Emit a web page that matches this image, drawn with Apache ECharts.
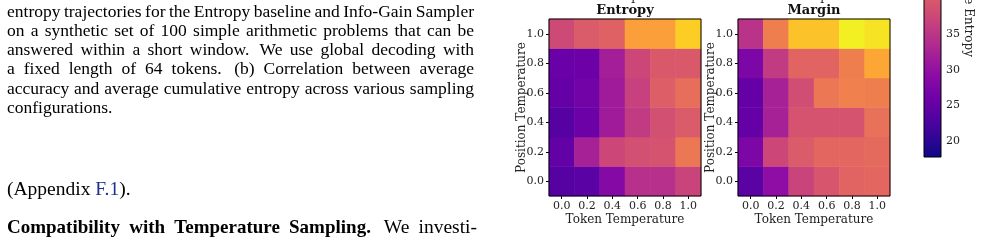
<!DOCTYPE html>
<html>
<head>
<meta charset="utf-8">
<script src="https://cdn.jsdelivr.net/npm/echarts@6/dist/echarts.min.js"></script>
<style>
  html, body { margin: 0; padding: 0; background: #fff; }
  #main { width: 981px; height: 245px; }
</style>
</head>
<body>
<div id="main"></div>
<script>
// axis categories
const tokenTemps = ["0.0", "0.2", "0.4", "0.6", "0.8", "1.0"];
const positionTemps = ["0.0", "0.2", "0.4", "0.6", "0.8", "1.0"];

// average cumulative entropy, rows = position temperature 0.0 -> 1.0, cols = token temperature
const entropyGrid = [
  [23.7, 24.1, 28.4, 34.3, 34.3, 37.0],
  [24.9, 32.3, 37.4, 38.6, 39.0, 43.7],
  [23.7, 26.0, 31.5, 35.8, 38.6, 40.1],
  [25.2, 26.4, 31.5, 36.6, 40.5, 42.5],
  [25.6, 26.0, 31.9, 37.4, 39.8, 39.8],
  [37.8, 40.1, 40.9, 48.4, 48.4, 53.1]
];
const marginGrid = [
  [24.1, 29.6, 37.0, 39.4, 41.3, 41.7],
  [27.6, 37.4, 40.1, 41.7, 41.7, 42.1],
  [25.2, 32.3, 39.0, 39.0, 39.0, 42.9],
  [25.2, 32.3, 38.2, 43.7, 44.8, 44.5],
  [27.6, 35.8, 41.3, 41.3, 44.5, 49.2],
  [34.7, 44.5, 51.9, 51.9, 56.2, 55.0]
];

// colour scale
const colorMin = 17.8;
const colorMax = 57.0;
const colorbarTicks = [20, 25, 30, 35];
const plasma = ["#0d0887", "#41049d", "#6a00a8", "#8f0da4", "#b12a90", "#cc4778",
                "#e16462", "#f2844b", "#fca636", "#fcce25", "#f0f921"];

// paper text around the figure
const captionLines = [
  "entropy trajectories for the Entropy baseline and Info-Gain Sampler",
  "on a synthetic set of 100 simple arithmetic problems that can be",
  "answered within a short window. We use global decoding with",
  "a fixed length of 64 tokens. (b) Correlation between average",
  "accuracy and average cumulative entropy across various sampling",
  "configurations."
];

const serif = "DejaVu Serif";
const captionFont = "17.5px 'Liberation Serif'";
const bodyFont = "19.5px 'Liberation Serif'";
const bodyBold = "bold 19px 'Liberation Serif'";

function toCells(grid) {
  const out = [];
  grid.forEach(function (row, y) {
    row.forEach(function (v, x) { out.push([x, y, v]); });
  });
  return out;
}

// word-by-word layout so the paper text is justified like the original
const measureCtx = document.createElement("canvas").getContext("2d");
function textW(s, font) { measureCtx.font = font; return measureCtx.measureText(s).width; }

function layoutLine(tokens, y, x0, x1, justify) {
  const widths = tokens.map(function (tk) { return textW(tk.t, tk.font); });
  const total = widths.reduce(function (a, b) { return a + b; }, 0);
  // sentence ends get a bit more room, like TeX
  const weights = tokens.map(function (tk, i) {
    if (i === 0 || tk.nb) return 0;
    return /[.]$/.test(tokens[i - 1].t) ? 1.4 : 1;
  });
  const wsum = weights.reduce(function (a, b) { return a + b; }, 0);
  const unit = justify && wsum ? (x1 - x0 - total) / wsum : textW(" ", tokens[0].font);
  let x = x0;
  const out = [];
  tokens.forEach(function (tk, i) {
    x += weights[i] * unit;
    out.push({
      type: "text", x: x, y: y,
      style: { text: tk.t, font: tk.font, fill: tk.color || "#000", textVerticalAlign: "middle" }
    });
    x += widths[i];
  });
  return out;
}

function plainTokens(line, font) {
  return line.split(" ").map(function (w) { return { t: w, font: font }; });
}

const graphics = [];
captionLines.forEach(function (line, i) {
  graphics.push.apply(graphics, layoutLine(plainTokens(line, captionFont), 12 + i * 19.3, 7, 474, i < captionLines.length - 1));
});
graphics.push.apply(graphics, layoutLine([
  { t: "(Appendix", font: bodyFont },
  { t: "F.1", font: bodyFont, color: "#1f2f8f" },
  { t: ").", font: bodyFont, nb: true }
], 190, 7, 474, false));
graphics.push.apply(graphics, layoutLine(
  plainTokens("Compatibility with Temperature Sampling.", bodyBold)
    .concat(plainTokens("We investi-", bodyFont)),
  228, 7, 477, true));

const grids = [
  { left: 549, top: 19, width: 152, height: 177 },
  { left: 738, top: 19, width: 152, height: 177 }
];
const titles = ["Entropy", "Margin"];

grids.forEach(function (g, i) {
  const cx = g.left + g.width / 2;
  graphics.push({
    type: "text", x: cx, y: 11,
    style: { text: titles[i], font: "bold 13px '" + serif + "'", fill: "#111", textAlign: "center", textVerticalAlign: "middle" }
  });
  // x label of the row above, cut off by the crop
  graphics.push({
    type: "text", x: cx, y: -3,
    style: { text: "Token Temperature", font: "12px '" + serif + "'", fill: "#222", textAlign: "center", textVerticalAlign: "middle" }
  });
});

graphics.push({
  type: "text", x: 968, y: 57, rotation: -Math.PI / 2,
  style: { text: "Average Cumulative Entropy", font: "12px '" + serif + "'", fill: "#222", textAlign: "right", textVerticalAlign: "middle" }
});

// colour bar: 7.14 px per unit, bar bottom at y = 157; only the part below y = 0 is in view
const cbPx = 7.14;
const cbBottom = 157;
const cbVisibleMax = colorMin + cbBottom / cbPx;

const tickFont = { color: "#222", fontFamily: serif, fontSize: 11 };

function heatAxes(i) {
  return {
    x: {
      type: "category", gridIndex: i, data: tokenTemps,
      axisLine: { show: false },
      axisTick: { show: true, alignWithLabel: true, length: 3, lineStyle: { color: "#000" } },
      axisLabel: Object.assign({ margin: 5 }, tickFont),
      splitLine: { show: false },
      name: "Token Temperature", nameLocation: "middle", nameGap: 18, nameMoveOverlap: false,
      nameTextStyle: { color: "#222", fontFamily: serif, fontSize: 12 }
    },
    y: {
      type: "category", gridIndex: i, data: positionTemps,
      axisLine: { show: false },
      axisTick: { show: true, alignWithLabel: true, length: 3, lineStyle: { color: "#000" } },
      axisLabel: Object.assign({ margin: 5 }, tickFont),
      splitLine: { show: false },
      name: "Position Temperature", nameLocation: "middle", nameGap: 21, nameRotate: 90, nameMoveOverlap: false,
      nameTextStyle: { color: "#222", fontFamily: serif, fontSize: 12 }
    }
  };
}
const ax0 = heatAxes(0), ax1 = heatAxes(1);

const chart = echarts.init(document.getElementById("main"), null, { renderer: "canvas" });
chart.setOption({
  backgroundColor: "#fff",
  animation: false,
  grid: [
    Object.assign({ show: true, borderColor: "#000", borderWidth: 1, backgroundColor: "transparent", z: 5 }, grids[0]),
    Object.assign({ show: true, borderColor: "#000", borderWidth: 1, backgroundColor: "transparent", z: 5 }, grids[1]),
    { left: 924, top: 0, width: 17, height: cbBottom }
  ],
  xAxis: [ax0.x, ax1.x, { type: "value", gridIndex: 2, min: 0, max: 1, show: false }],
  yAxis: [ax0.y, ax1.y, {
    type: "value", gridIndex: 2, min: colorMin, max: cbVisibleMax, position: "right",
    axisLine: { show: false },
    splitLine: { show: false },
    axisTick: { show: true, length: 3, customValues: colorbarTicks, lineStyle: { color: "#000" } },
    axisLabel: Object.assign({ margin: 5, customValues: colorbarTicks }, tickFont)
  }],
  visualMap: {
    type: "continuous", show: false, min: colorMin, max: colorMax,
    dimension: 2, seriesIndex: [0, 1],
    inRange: { color: plasma }
  },
  series: [
    {
      type: "heatmap", xAxisIndex: 0, yAxisIndex: 0,
      data: toCells(entropyGrid),
      itemStyle: { borderWidth: 0 },
      emphasis: { disabled: true }
    },
    {
      type: "heatmap", xAxisIndex: 1, yAxisIndex: 1,
      data: toCells(marginGrid),
      itemStyle: { borderWidth: 0 },
      emphasis: { disabled: true }
    },
    {
      // colour bar, full range; it runs past the top of the view
      type: "custom", xAxisIndex: 2, yAxisIndex: 2,
      data: [[0, colorMin, colorMax]],
      silent: true,
      clip: false,
      renderItem: function (params, api) {
        const p0 = api.coord([0, api.value(2)]);
        const p1 = api.coord([1, api.value(1)]);
        return {
          type: "rect",
          shape: { x: p0[0], y: p0[1], width: p1[0] - p0[0], height: p1[1] - p0[1] },
          style: {
            fill: new echarts.graphic.LinearGradient(0, 1, 0, 0,
              plasma.map(function (c, i) { return { offset: i / (plasma.length - 1), color: c }; })),
            stroke: "#000", lineWidth: 1
          }
        };
      }
    }
  ],
  graphic: graphics
});
</script>
</body>
</html>
